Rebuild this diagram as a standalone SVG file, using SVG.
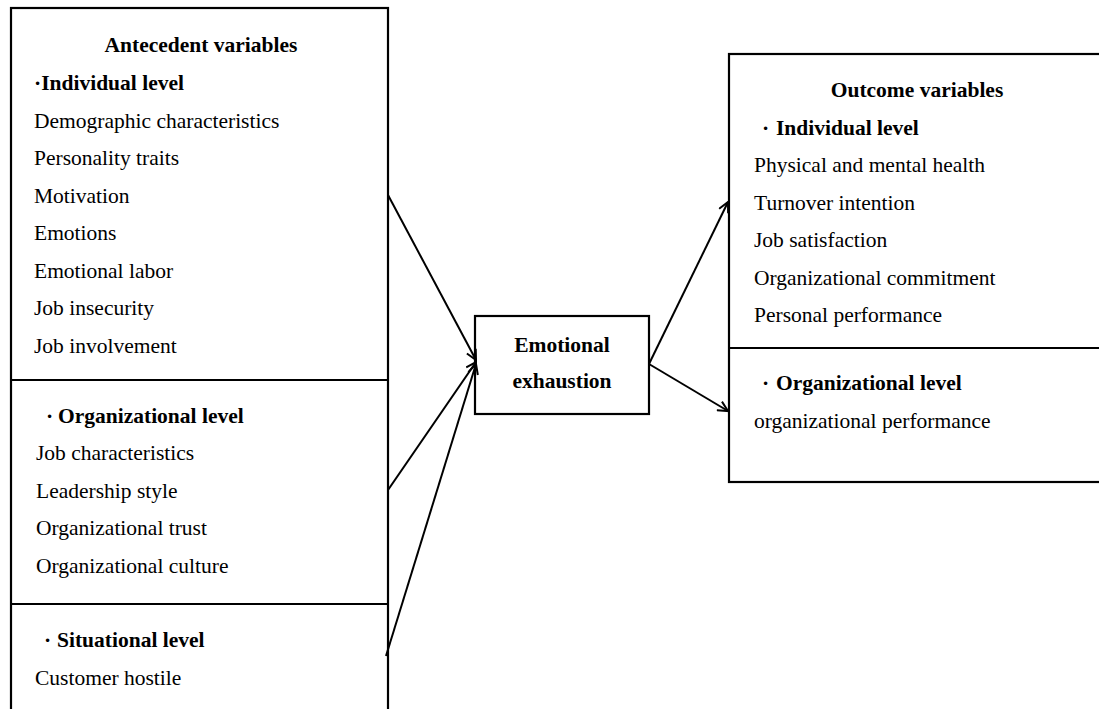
<svg xmlns="http://www.w3.org/2000/svg" width="1099" height="709" viewBox="0 0 1099 709">
<style>
text{font-family:"Liberation Serif","Times New Roman",serif;font-size:21.5px;fill:#000}
.b{font-weight:bold}
.box{fill:#fff;stroke:#000;stroke-width:2.2}
.c{fill:none;stroke:#000;stroke-width:2}
</style>
<defs>
<marker id="ah" viewBox="0 0 12 12" refX="11" refY="6" markerWidth="12" markerHeight="12" markerUnits="userSpaceOnUse" orient="auto">
<path d="M1,1 L11,6 L1,11" fill="none" stroke="#000" stroke-width="2"/>
</marker>
</defs>
<rect width="1099" height="709" fill="#fff"/>
<g id="antecedent">
<rect class="box" x="11" y="8" width="377" height="720"/>
<line x1="11" y1="380" x2="388" y2="380" stroke="#000" stroke-width="2.2"/>
<line x1="11" y1="604" x2="388" y2="604" stroke="#000" stroke-width="2.2"/>
<text class="b" x="201" y="52" text-anchor="middle">Antecedent variables</text>
<text class="b" x="34" y="90">·Individual level</text>
<text x="34" y="128">Demographic characteristics</text>
<text x="34" y="165">Personality traits</text>
<text x="34" y="203">Motivation</text>
<text x="34" y="240">Emotions</text>
<text x="34" y="278">Emotional labor</text>
<text x="34" y="315">Job insecurity</text>
<text x="34" y="353">Job involvement</text>
<text class="b" x="46" y="423">·<tspan x="58">Organizational level</tspan></text>
<text x="36" y="460">Job characteristics</text>
<text x="36" y="498">Leadership style</text>
<text x="36" y="535">Organizational trust</text>
<text x="36" y="573">Organizational culture</text>
<text class="b" x="44" y="647">·<tspan x="57">Situational level</tspan></text>
<text x="35" y="685">Customer hostile</text>
</g>
<g id="emotional-exhaustion">
<rect class="box" x="475" y="316" width="174" height="98"/>
<text class="b" x="562" y="352" text-anchor="middle">Emotional</text>
<text class="b" x="562" y="388" text-anchor="middle">exhaustion</text>
</g>
<g id="outcome">
<rect class="box" x="729" y="54" width="380" height="428"/>
<line x1="729" y1="348" x2="1099" y2="348" stroke="#000" stroke-width="2.2"/>
<text class="b" x="917" y="97" text-anchor="middle">Outcome variables</text>
<text class="b" x="762" y="135">·<tspan x="776">Individual level</tspan></text>
<text x="754" y="172">Physical and mental health</text>
<text x="754" y="210">Turnover intention</text>
<text x="754" y="247">Job satisfaction</text>
<text x="754" y="285">Organizational commitment</text>
<text x="754" y="322">Personal performance</text>
<text class="b" x="762" y="390">·<tspan x="776">Organizational level</tspan></text>
<text x="754" y="428">organizational performance</text>
</g>
<g id="connectors">
<line class="c" x1="388" y1="195" x2="476" y2="360" marker-end="url(#ah)"/>
<line class="c" x1="388" y1="490" x2="476" y2="362" marker-end="url(#ah)"/>
<line class="c" x1="386" y1="656" x2="476" y2="364" marker-end="url(#ah)"/>
<line class="c" x1="649" y1="364" x2="728" y2="202" marker-end="url(#ah)"/>
<line class="c" x1="649" y1="364" x2="728" y2="411" marker-end="url(#ah)"/>
</g>
</svg>
